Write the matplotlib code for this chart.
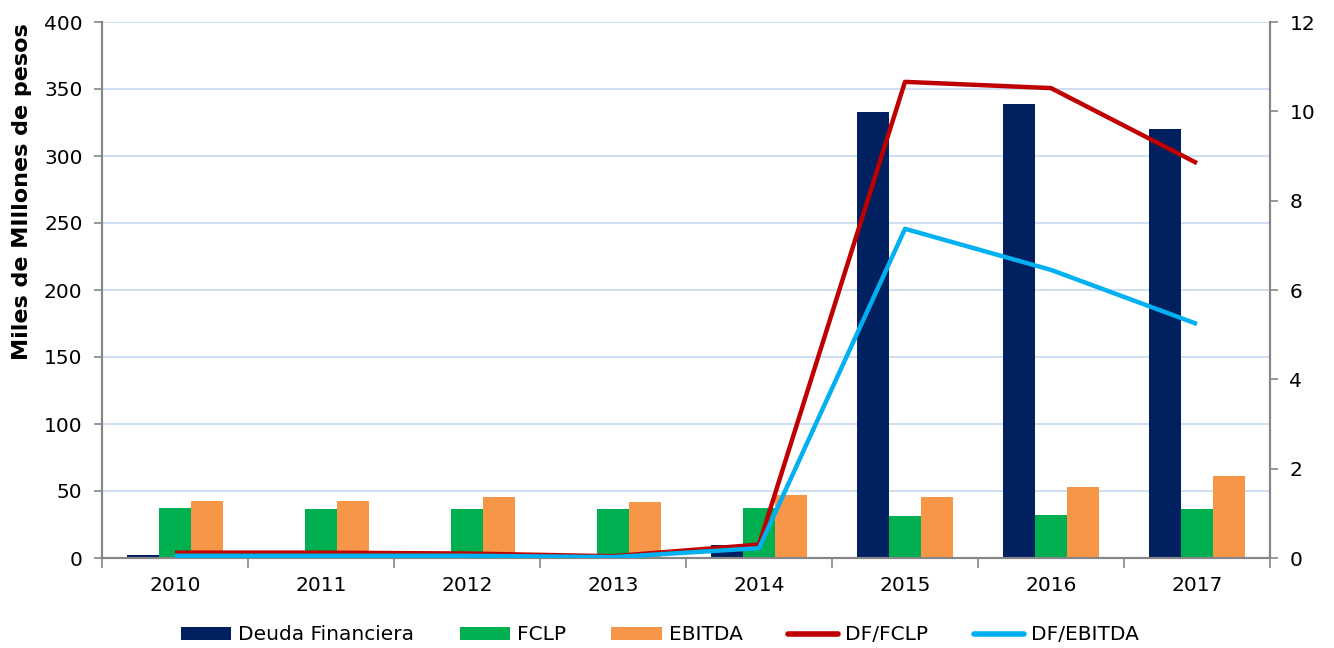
import matplotlib
matplotlib.use("Agg")
import matplotlib.pyplot as plt
import numpy as np
from matplotlib.patches import Patch
from matplotlib.lines import Line2D

years = ["2010", "2011", "2012", "2013", "2014", "2015", "2016", "2017"]
deuda = [2.2, 0.5, 0.5, 0.5, 9.5, 333, 339, 320]
fclp = [37.3, 36.6, 36.6, 36.6, 37.0, 31.3, 32.0, 36.6]
ebitda = [42.5, 42.5, 45.5, 41.8, 47.0, 45.5, 53.0, 61.0]
df_fclp = [0.12, 0.12, 0.10, 0.04, 0.30, 10.66, 10.52, 8.84]
df_ebitda = [0.05, 0.05, 0.05, 0.02, 0.22, 7.37, 6.45, 5.24]

c_deuda = "#002060"
c_fclp = "#00b050"
c_ebitda = "#f79646"
c_red = "#c00000"
c_blue = "#00b0f0"
c_axis = "#868686"
c_grid = "#c6d9f1"

plt.rcParams['font.family'] = ['DejaVu Sans']
fs = 14.5

fig = plt.figure(figsize=(13.34, 6.48), dpi=100)
ax = fig.add_axes([102/1334, 1-558/648, (1270-102)/1334, (558-22)/648])
x = np.arange(len(years))
w = 0.219
ax.bar(x - w, deuda, w, color=c_deuda, zorder=2)
ax.bar(x, fclp, w, color=c_fclp, zorder=2)
ax.bar(x + w, ebitda, w, color=c_ebitda, zorder=2)

ax.set_xlim(-0.5, len(years) - 0.5)
ax.set_ylim(0, 400)
ax.set_yticks(np.arange(0, 401, 50))
ax.yaxis.grid(True, color=c_grid, lw=1.2, zorder=0)
ax.set_axisbelow(True)
ax.set_xticks(x)
ax.set_xticklabels(years, fontsize=fs)
ax.tick_params(axis='x', length=0, pad=13)
ax.set_xticks(np.arange(-0.5, len(years) + 0.5, 1), minor=True)
ax.tick_params(axis='x', which='minor', length=7, color=c_axis, width=1.2)
ax.tick_params(axis='y', length=6, color=c_axis, width=1.2, labelsize=fs, pad=8)
ax.spines['top'].set_visible(False)
for s in ['left', 'bottom', 'right']:
    ax.spines[s].set_color(c_axis)
    ax.spines[s].set_linewidth(1.5)

ax2 = ax.twinx()
ax2.plot(x, df_fclp, color=c_red, lw=3.2, solid_capstyle='butt', zorder=3)
ax2.plot(x, df_ebitda, color=c_blue, lw=3.2, solid_capstyle='butt', zorder=3)
ax2.set_ylim(0, 12)
ax2.set_yticks(np.arange(0, 13, 2))
ax2.tick_params(axis='y', length=6, color=c_axis, width=1.2, labelsize=fs, pad=8)
ax2.spines['top'].set_visible(False)
for s in ['left', 'bottom', 'right']:
    ax2.spines[s].set_color(c_axis)
    ax2.spines[s].set_linewidth(1.5)

fig.text(22/1334, 1-192/648, "Miles de MIllones de pesos", rotation=90,
         fontsize=16, fontweight='bold', ha='center', va='center')

handles = [
    Patch(facecolor=c_deuda, label="Deuda Financiera"),
    Patch(facecolor=c_fclp, label="FCLP"),
    Patch(facecolor=c_ebitda, label="EBITDA"),
    Line2D([], [], color=c_red, lw=4, solid_capstyle='round', label="DF/FCLP"),
    Line2D([], [], color=c_blue, lw=4, solid_capstyle='round', label="DF/EBITDA"),
]
fig.legend(handles=handles, loc='center', bbox_to_anchor=(660/1334, 1-635/648),
           ncol=5, frameon=False, fontsize=fs, handlelength=2.5, handleheight=0.6,
           handletextpad=0.35, columnspacing=2.25)

fig.savefig("out.png", dpi=100)
